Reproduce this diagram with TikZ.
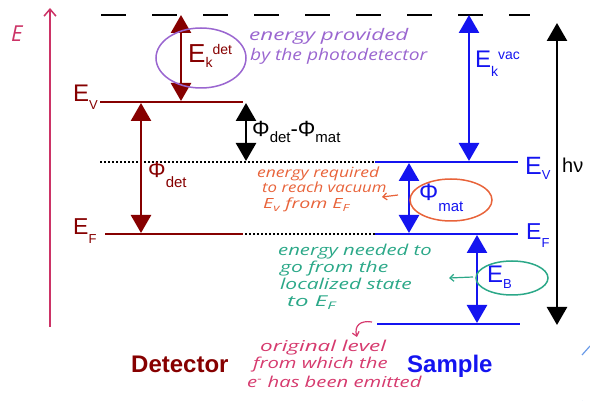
\documentclass[tikz,border=0pt]{standalone}
\usepackage{fontspec}
\setmainfont{Liberation Sans}
\newfontfamily\hand{Open Sans}
\usetikzlibrary{arrows.meta}
\definecolor{dred}{HTML}{860000}
\definecolor{sblue}{HTML}{1414F0}
\definecolor{hpurple}{HTML}{9A66D0}
\definecolor{horange}{HTML}{E8633A}
\definecolor{hgreen}{HTML}{2BA888}
\definecolor{hpink}{HTML}{D63A6E}
\definecolor{axpink}{HTML}{CC3366}
\definecolor{lblue}{HTML}{6A9BE8}
\newcommand{\fs}[1]{\fontsize{#1}{#1}\selectfont}
\newcommand{\hw}[2][1.4]{\scalebox{#1}[1]{#2}}
\tikzset{
  bigarrow/.style={line width=2.6pt,{Triangle[width=20pt,length=18pt]}-{Triangle[width=20pt,length=18pt]}},
  levelline/.style={line width=2.6pt},
  dotline/.style={line width=2.2pt,dash pattern=on 2pt off 2pt},
  lab/.style={inner sep=0pt,anchor=base west},
  handtxt/.style={inner sep=0pt,anchor=base west,font=\hand\itshape\fs{15}},
  handarrow/.style={line width=1.2pt,-{Straight Barb[length=4pt,width=7pt]}},
  ring/.style={line width=1.5pt}
}
\begin{document}
\begin{tikzpicture}[x=1pt,y=-1pt]
\useasboundingbox (0,0) rectangle (590,401);
% energy axis
\coordinate (axb) at (50,327);
\coordinate (axt) at (50,8);
\draw[axpink,line width=1.5pt,-{Straight Barb[length=7pt,width=12pt]}] (axb) -- (axt);
\node[lab,text=axpink,font=\hand\itshape\fs{22}] (eax) at (11,42) {E};
% vacuum level
\coordinate (vacL) at (101,15);
\coordinate (vacR) at (530,15);
\draw[line width=2.6pt,dash pattern=on 25pt off 26pt] (vacL) -- (vacR);
% detector levels
\coordinate (dEVl) at (100,102); \coordinate (dEVr) at (243,102);
\coordinate (dEFl) at (105,234); \coordinate (dEFr) at (243,234);
\draw[dred,levelline] (dEVl) -- (dEVr);
\draw[dred,levelline] (dEFl) -- (dEFr);
% dotted lines
\coordinate (dotVl) at (100,162); \coordinate (sEVl) at (375,162); \coordinate (sEVr) at (518,162);
\coordinate (dotFl) at (245,234); \coordinate (sEFl) at (375,234); \coordinate (sEFr) at (518,234);
\coordinate (sB0l) at (377,324); \coordinate (sB0r) at (520,324);
\draw[dotline] (dotVl) -- (sEVl);
\draw[dotline] (dotFl) -- (sEFl);
\draw[sblue,levelline] (sEVl) -- (sEVr);
\draw[sblue,levelline] (sEFl) -- (sEFr);
\draw[sblue,levelline] (sB0l) -- (sB0r);
% arrows
\coordinate (ekdT) at (181,15); \coordinate (ekdB) at (181,101);
\draw[dred,bigarrow] (ekdT) -- (ekdB);
\coordinate (phdT) at (141,103); \coordinate (phdB) at (141,233);
\draw[dred,bigarrow] (phdT) -- (phdB);
\coordinate (dfT) at (246,103); \coordinate (dfB) at (246,161);
\draw[bigarrow] (dfT) -- (dfB);
\coordinate (ekvT) at (469,15); \coordinate (ekvB) at (469,161);
\draw[sblue,bigarrow] (ekvT) -- (ekvB);
\coordinate (phmT) at (409,163); \coordinate (phmB) at (409,233);
\draw[sblue,bigarrow] (phmT) -- (phmB);
\coordinate (ebT) at (477,235); \coordinate (ebB) at (477,323);
\draw[sblue,bigarrow] (ebT) -- (ebB);
\coordinate (hvT) at (557,23); \coordinate (hvB) at (557,325);
\draw[bigarrow] (hvT) -- (hvB);
% labels
\node[lab,text=dred] (lEkd) at (188,63) {\fs{26}E\raisebox{-5pt}{\fs{14}k}\raisebox{8pt}{\fs{14}det}};
\node[lab,text=dred] (lEVd) at (73,102) {\fs{24}E\raisebox{-8pt}{\fs{13}V}};
\node[lab,text=dred] (lEFd) at (73,235) {\fs{23}E\raisebox{-9pt}{\fs{13}F}};
\node[lab,text=dred] (lPhd) at (148,178) {\fs{22}Φ\raisebox{-10pt}{\fs{15}det}};
\node[lab] (lDiff) at (252,137) {\fs{22}Φ\raisebox{-6pt}{\fs{15}det}-Φ\raisebox{-6pt}{\fs{15}mat}};
\node[lab,text=sblue] (lEkv) at (475,68) {\fs{24}E\raisebox{-9pt}{\fs{14}k}\raisebox{8pt}{\fs{14}vac}};
\node[lab,text=sblue] (lEVs) at (525,175) {\fs{25}E\raisebox{-5pt}{\fs{13}V}};
\node[lab,text=sblue] (lEFs) at (526,240) {\fs{23}E\raisebox{-8pt}{\fs{13}F}};
\node[lab,text=sblue] (lPhm) at (419,201) {\fs{24}Φ\raisebox{-11pt}{\fs{15}mat}};
\node[lab,text=sblue] (lEB) at (487,283) {\fs{24}E\raisebox{-6pt}{\fs{13}B}};
\node[lab] (lhv) at (562,173) {\fs{20}hν};
\node[lab,text=dred,font=\bfseries\fs{24}] (det) at (131,372) {Detector};
\node[lab,text=sblue,font=\bfseries\fs{24}] (smp) at (407,372) {Sample};
% rings
\draw[hpurple,ring] (201,58) ellipse [x radius=45, y radius=30];
\draw[horange,ring] (451,200) ellipse [x radius=41, y radius=21];
\draw[hgreen,ring] (512,278) ellipse [x radius=36, y radius=17];
% handwritten notes
\node[handtxt,text=hpurple,font=\hand\itshape\fs{16}] (n1a) at (249,41) {\hw[1.4]{energy provided}};
\node[handtxt,text=hpurple,font=\hand\itshape\fs{16}] (n1b) at (250,61) {\hw[1.2]{by the photodetector}};
\node[handtxt,text=horange,font=\hand\itshape\fs{14}] (n2a) at (257,178) {\hw[1.25]{energy required}};
\node[handtxt,text=horange,font=\hand\itshape\fs{14}] (n2b) at (262,193) {\hw[1.2]{to reach vacuum}};
\node[handtxt,text=horange,font=\hand\itshape\fs{14}] (n2c) at (263,209) {\hw[1.4]{E\textsubscript{v} from E\textsubscript{F}}};
\node[handtxt,text=hgreen,font=\hand\itshape\fs{15}] (n3a) at (278,256) {\hw[1.35]{energy needed to}};
\node[handtxt,text=hgreen,font=\hand\itshape\fs{15}] (n3b) at (280,273) {\hw[1.4]{go from the}};
\node[handtxt,text=hgreen,font=\hand\itshape\fs{15}] (n3c) at (280,290) {\hw[1.4]{localized state}};
\node[handtxt,text=hgreen,font=\hand\itshape\fs{15}] (n3d) at (287,307) {\hw[1.6]{to E\textsubscript{F}}};
\node[handtxt,text=hpink,font=\hand\itshape\fs{15}] (n4a) at (260,352) {\hw[1.5]{original level}};
\node[handtxt,text=hpink,font=\hand\itshape\fs{15}] (n4b) at (253,368) {\hw[1.35]{from which the}};
\node[handtxt,text=hpink,font=\hand\itshape\fs{15}] (n4c) at (247,388) {\hw[1.35]{e\textsuperscript{-} has been emitted}};
% hand arrows
\coordinate (oa1) at (398,195); \coordinate (oa2) at (382,197);
\draw[horange,handarrow] (oa1) -- (oa2);
\coordinate (ga1) at (473,277); \coordinate (ga2) at (449,278);
\draw[hgreen,handarrow] (ga1) -- (ga2);
\coordinate (pa1) at (372,322); \coordinate (pa2) at (357,337);
\draw[hpink,handarrow] (pa1) .. controls (360,320) and (354,326) .. (pa2);
% cut-off marks at right edge
\coordinate (bm1) at (582,355); \coordinate (bm2) at (590,346);
\draw[lblue,line width=1.2pt] (bm1) -- (bm2);
\draw[lblue,line width=1.2pt] (582,401) arc[start angle=180,end angle=60,radius=4];
\end{tikzpicture}
\end{document}
